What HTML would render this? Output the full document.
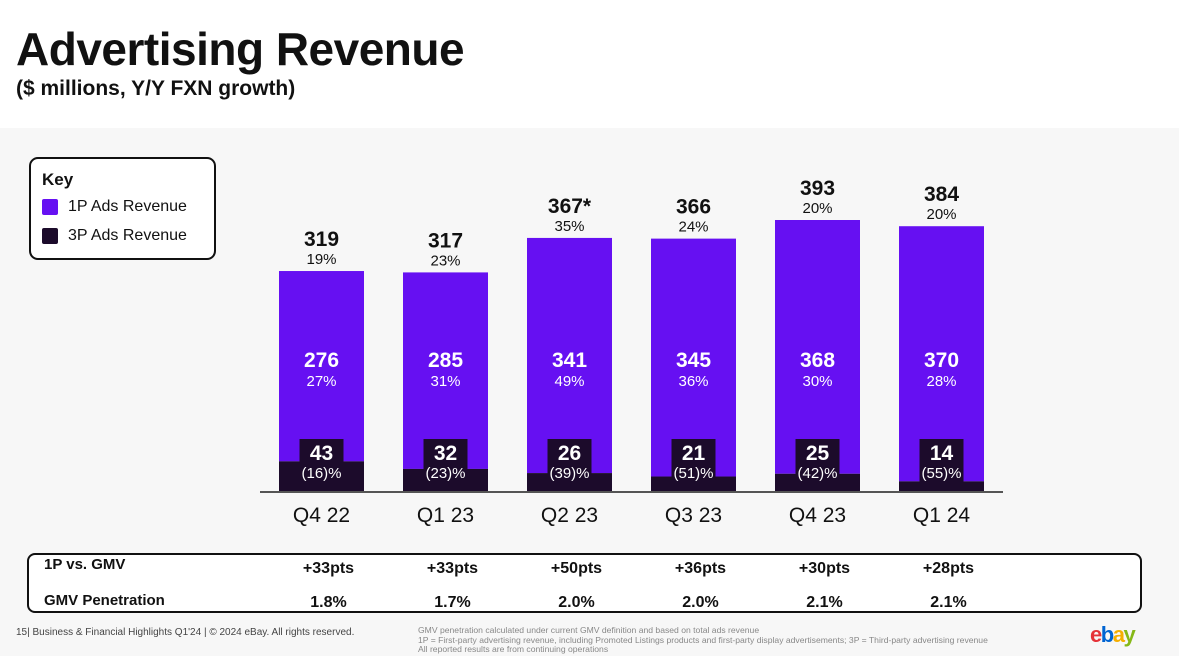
<!DOCTYPE html>
<html><head><meta charset="utf-8"><style>
body{margin:0;width:1179px;height:656px;overflow:hidden;font-family:"Liberation Sans",sans-serif;background:#f7f7f7;position:relative}
.top{position:absolute;left:0;top:0;width:1179px;height:128px;background:#fff}
h1{position:absolute;left:16px;top:22px;margin:0;font-size:46px;font-weight:bold;color:#111;letter-spacing:-0.5px}
.sub{position:absolute;left:16px;top:77px;font-size:21px;font-weight:bold;color:#111}
.key{position:absolute;left:29px;top:157px;width:183px;height:99px;border:2px solid #111;border-radius:9px;background:#fff}
.key div{position:absolute;font-size:16px;color:#111}
.sw{width:16px;height:16px;border-radius:2px}
.tbl{position:absolute;left:27px;top:553px;width:1111px;height:56px;border:2px solid #111;border-radius:8px;background:#fff}
.t{position:absolute;font-size:16px;font-weight:bold;color:#111}
.foot{position:absolute;font-size:10px;color:#444}
.small{position:absolute;font-size:8.6px;color:#888;line-height:9.5px;white-space:nowrap}
</style></head><body>
<div class="top"></div>
<h1>Advertising Revenue</h1>
<div class="sub">($ millions, Y/Y FXN growth)</div>
<div class="key">
<div style="left:11px;top:11px;font-weight:bold;font-size:17px">Key</div>
<div class="sw" style="left:11px;top:40px;background:#6610f2"></div>
<div style="left:37px;top:39px">1P Ads Revenue</div>
<div class="sw" style="left:11px;top:69px;background:#1c0b2b"></div>
<div style="left:37px;top:68px">3P Ads Revenue</div>
</div>
<div class="tbl"></div>
<div class="t" style="left:44px;top:556px;font-size:15px">1P vs. GMV</div>
<div class="t" style="left:44px;top:592px;font-size:15px">GMV Penetration</div>
<svg id="chart" width="1179" height="656" style="position:absolute;left:0;top:0"></svg>
<div class="foot" style="left:16px;top:627px">15| Business &amp; Financial Highlights Q1'24 | © 2024 eBay. All rights reserved.</div>
<div class="small" style="left:418px;top:626px">GMV penetration calculated under current GMV definition and based on total ads revenue<br>1P = First-party advertising revenue, including Promoted Listings products and first-party display advertisements; 3P = Third-party advertising revenue<br>All reported results are from continuing operations</div>
<div style="position:absolute;left:1090px;top:622px;font-size:22px;font-weight:bold;letter-spacing:-1.5px"><span style="color:#e53238">e</span><span style="color:#0064d2">b</span><span style="color:#f5af02">a</span><span style="color:#86b817">y</span></div>
<script>
const categories=["Q4 22","Q1 23","Q2 23","Q3 23","Q4 23","Q1 24"];
const totals=[319,317,367,366,393,384];
const totalLabels=["319","317","367*","366","393","384"];
const totalGrowth=["19%","23%","35%","24%","20%","20%"];
const p1=[276,285,341,345,368,370];
const p1Growth=["27%","31%","49%","36%","30%","28%"];
const p3=[43,32,26,21,25,14];
const p3Growth=["(16)%","(23)%","(39)%","(51)%","(42)%","(55)%"];
const vsGmv=["+33pts","+33pts","+50pts","+36pts","+30pts","+28pts"];
const penetration=["1.8%","1.7%","2.0%","2.0%","2.1%","2.1%"];
const NS="http://www.w3.org/2000/svg";
const svg=document.getElementById('chart');
const base=491, k=271/393;
const y=v=>base-v*k;
const xc=i=>321.5+i*124;
const bw=85;
function el(t,a,txt){const e=document.createElementNS(NS,t);for(const q in a)e.setAttribute(q,a[q]);if(txt!==undefined)e.textContent=txt;svg.appendChild(e);return e;}
function text(x,yy,s,size,w,fill){return el('text',{x:x,y:yy,'text-anchor':'middle','font-size':size,'font-weight':w,fill:fill,'font-family':'Liberation Sans, sans-serif'},s);}
categories.forEach((c,i)=>{
  const x=xc(i);
  const tot=p1[i]+p3[i];
  let r=el('rect',{x:x-bw/2,y:y(tot),width:bw,height:y(p3[i])-y(tot),fill:'#6610f2'});
  
  
  r=el('rect',{x:x-bw/2,y:y(p3[i]),width:bw,height:base-y(p3[i]),fill:'#1c0b2b'});
  
  
  r=el('rect',{x:x-22,y:base-52,width:44,height:52,fill:'#1c0b2b'});
  
  
  text(x,y(tot)-25,totalLabels[i],21,'bold','#111');
  text(x,y(tot)-7,totalGrowth[i],15,'normal','#111');
  text(x,base-124,String(p1[i]),21,'bold','#fff');
  text(x,base-105,p1Growth[i],15,'normal','#fff');
  text(x,base-31,String(p3[i]),21,'bold','#fff');
  text(x,base-13,p3Growth[i],15,'normal','#fff');
  const l=text(x,base+31,c,21,'normal','#111');
  
  
  const a=text(x+7,573,vsGmv[i],16,'bold','#111');
  
  
  const b=text(x+7,607,penetration[i],16,'bold','#111');
  
  
});
const ax=el('line',{x1:260,x2:1003,y1:base+1,y2:base+1,stroke:'#555','stroke-width':2});


</script>
</body></html>
